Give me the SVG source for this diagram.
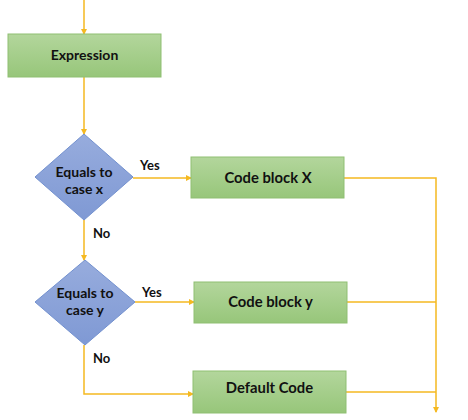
<svg xmlns="http://www.w3.org/2000/svg" width="468" height="420" viewBox="0 0 468 420">
<defs>
<linearGradient id="gGreen" x1="0" y1="0" x2="0" y2="1">
<stop offset="0" stop-color="#b3d69c"/>
<stop offset="1" stop-color="#97c67a"/>
</linearGradient>
<linearGradient id="gBlue" x1="0" y1="0" x2="0" y2="1">
<stop offset="0" stop-color="#97acdd"/>
<stop offset="1" stop-color="#7f99d4"/>
</linearGradient>
<marker id="arr" viewBox="0 0 6 6" refX="5" refY="3" markerWidth="6" markerHeight="6" orient="auto" markerUnits="userSpaceOnUse">
<path d="M0,0 L6,3 L0,6 Z" fill="#f5b921"/>
</marker>
<style>
.box{fill:url(#gGreen);stroke:#8fbf73;stroke-width:1}
.dia{fill:url(#gBlue);stroke:#7391cf;stroke-width:1}
.t{font-family:Lato,"Liberation Sans",sans-serif;font-weight:bold;font-size:14px;fill:#111;text-anchor:middle}
.tb{font-size:14.8px}
.lbl{font-family:Lato,"Liberation Sans",sans-serif;font-weight:bold;font-size:13px;fill:#111}
.c{fill:none;stroke:#f5b921;stroke-width:1.5}
</style>
</defs>
<g id="connectors">
<path class="c" d="M84,0 V34" marker-end="url(#arr)"/>
<path class="c" d="M84,77 V134" marker-end="url(#arr)"/>
<path class="c" d="M133,178 H191" marker-end="url(#arr)"/>
<path class="c" d="M84,220 V260" marker-end="url(#arr)"/>
<path class="c" d="M135,302 H194" marker-end="url(#arr)"/>
<path class="c" d="M84,345 V394 H193" marker-end="url(#arr)"/>
<path class="c" d="M344,178 H436 V412" marker-end="url(#arr)"/>
<path class="c" d="M347,302 H436"/>
<path class="c" d="M346,392 H436"/>
</g>
<g id="expression">
<rect class="box" x="8" y="34" width="153" height="43"/>
<text class="t" x="84.5" y="60">Expression</text>
</g>
<g id="decision-x">
<polygon class="dia" points="84,134 133,177 84,220 35,177"/>
<text class="t" x="84" y="177">Equals to</text>
<text class="t" x="84" y="194">case x</text>
</g>
<g id="code-x">
<rect class="box" x="191" y="157" width="153" height="41"/>
<text class="t tb" x="268" y="183">Code block X</text>
</g>
<g id="decision-y">
<polygon class="dia" points="85,260 135,302 85,345 35,302"/>
<text class="t" x="85" y="298">Equals to</text>
<text class="t" x="85" y="315">case y</text>
</g>
<g id="code-y">
<rect class="box" x="194" y="282" width="153" height="41"/>
<text class="t tb" x="270.5" y="307">Code block y</text>
</g>
<g id="default-code">
<rect class="box" x="193" y="371" width="153" height="42"/>
<text class="t tb" x="269.5" y="393">Default Code</text>
</g>
<g id="labels">
<text class="lbl" x="140" y="170">Yes</text>
<text class="lbl" x="93" y="238">No</text>
<text class="lbl" x="142" y="297">Yes</text>
<text class="lbl" x="93" y="363">No</text>
</g>
</svg>
